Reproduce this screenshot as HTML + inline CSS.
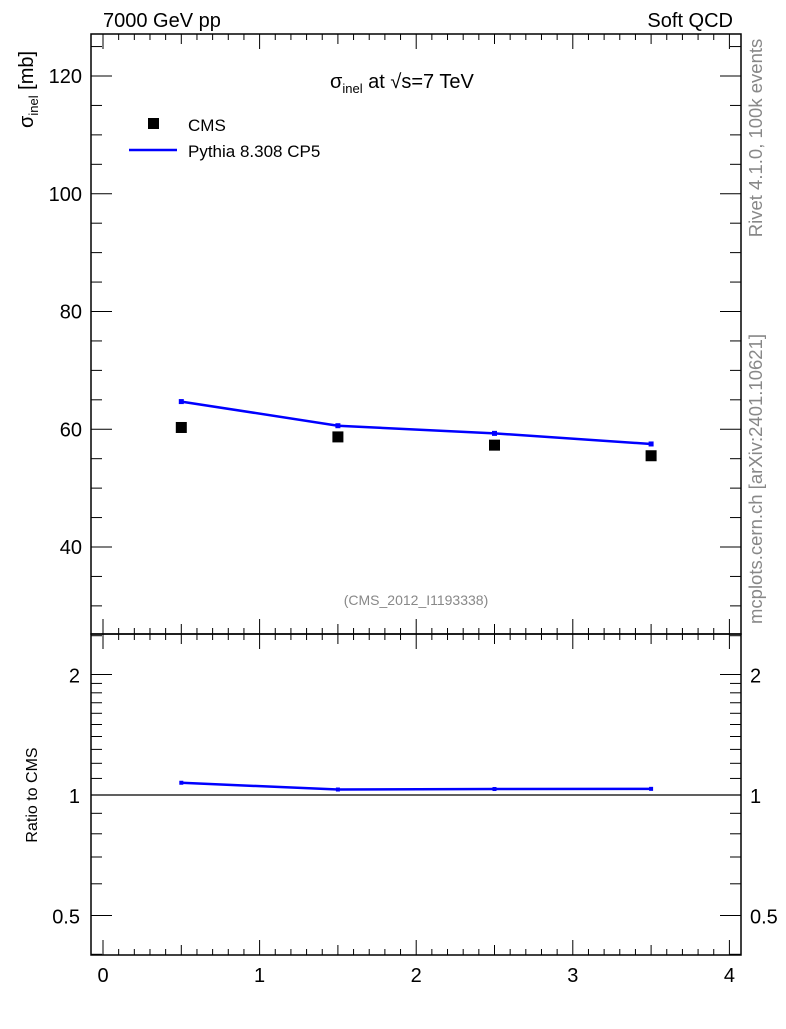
<!DOCTYPE html>
<html><head><meta charset="utf-8"><style>
body{margin:0;background:#fff;width:786px;height:1024px;overflow:hidden}
svg text{font-family:"Liberation Sans",sans-serif}
</style></head><body>
<svg id="c" width="786" height="1024" xmlns="http://www.w3.org/2000/svg">
<rect x="91" y="34" width="650" height="600" fill="none" stroke="#000" stroke-width="1.5"/>
<rect x="91" y="634" width="650" height="321" fill="none" stroke="#000" stroke-width="1.5"/>
<g id="ticks"></g>
<g id="marks"></g>
<text x="103" y="27" font-size="20">7000 GeV pp</text>
<text x="733" y="27" font-size="20" text-anchor="end">Soft QCD</text>
<text x="330" y="88" font-size="20">σ<tspan font-size="13" dy="5">inel</tspan><tspan dy="-5"> at √s=7 TeV</tspan></text>
<text transform="translate(33,128) rotate(-90)" font-size="20">σ<tspan font-size="13" dy="5">inel</tspan><tspan dy="-5"> [mb]</tspan></text>
<text transform="translate(37,795) rotate(-90)" font-size="16" text-anchor="middle">Ratio to CMS</text>
<text transform="translate(762,138) rotate(-90)" font-size="18.5" text-anchor="middle" fill="#888">Rivet 4.1.0,  100k events</text>
<text transform="translate(762,479) rotate(-90)" font-size="18.5" text-anchor="middle" fill="#888">mcplots.cern.ch [arXiv:2401.10621]</text>
<text x="416" y="605" font-size="14" text-anchor="middle" fill="#888">(CMS_2012_I1193338)</text>
<rect x="148" y="118" width="11" height="11" fill="#000"/>
<text x="188" y="131" font-size="17">CMS</text>
<line x1="129" y1="150" x2="177" y2="150" stroke="#00f" stroke-width="2.5"/>
<text x="188" y="157" font-size="17">Pythia 8.308 CP5</text>
</svg>
<script>
var categories=[0.5,1.5,2.5,3.5];
var cmsValues=[60.3,58.7,57.3,55.5];
var pythiaValues=[64.7,60.6,59.3,57.5];
var ratioValues=[1.073,1.032,1.035,1.036];
var mainTicks=[40,60,80,100,120];
var ratioTicks=[0.5,1,2];
var xTicks=[0,1,2,3,4];
(function(){
var NS='http://www.w3.org/2000/svg';
var tg=document.getElementById('ticks');
var mg=document.getElementById('marks');
var L=91,R=741,T=34,M=634,B=955;
function X(v){return 103+v*156.6;}
function Y(v){return 76+(120-v)*5.8875;}
function YR(v){return 795-Math.log(v)/Math.LN2*120.5;}
function el(t,a,p){var e=document.createElementNS(NS,t);for(var k in a)e.setAttribute(k,a[k]);p.appendChild(e);return e;}
function ln(x1,y1,x2,y2,w,c){return el('line',{x1:x1,y1:y1,x2:x2,y2:y2,stroke:c||'#000','stroke-width':w||1},tg);}
function txt(x,y,s,anchor){var t=el('text',{x:x,y:y,'font-size':20,'text-anchor':anchor},tg);t.textContent=s;return t;}
var i,v,x,y,len,t;
for(i=0;i<=40;i++){v=i/10;x=X(v);if(x<L||x>R)continue;len=i%10==0?15:(i%5==0?10:6);
 ln(x,M,x,M-len);ln(x,T,x,T+len);ln(x,B,x,B-len);ln(x,M,x,M+len);}
xTicks.forEach(function(v){
 t=txt(X(v),982,String(v),'middle');
 
 
});
for(v=30;v<=125;v+=5){y=Y(v);if(y<T||y>M)continue;len=v%20==0?21:11;ln(L,y,L+len,y);ln(R,y,R-len,y);}
mainTicks.forEach(function(v){
 t=txt(82,Y(v)+7,String(v),'end');
 
 
});
var rt=[0.4,0.5,0.6,0.7,0.8,0.9,1,1.1,1.2,1.3,1.4,1.5,1.6,1.7,1.8,1.9,2,2.5];
rt.forEach(function(v){y=YR(v);if(y<M||y>B)return;len=(v==1||v==2||v==0.5)?21:11;ln(L,y,L+len,y);ln(R,y,R-len,y);});
ratioTicks.forEach(function(v){
 t=txt(80,YR(v)+8,String(v),'end');
 
 
 t=txt(750,YR(v)+8,String(v),'start');
 
 
});
ln(L,YR(1),R,YR(1),1.2);
categories.forEach(function(c,i){
 var r=el('rect',{x:X(c)-5.5,y:Y(cmsValues[i])-5.5,width:11,height:11,fill:'#000'},mg);
 
 
});
var p=el('polyline',{points:categories.map(function(c,i){return X(c)+','+Y(pythiaValues[i]);}).join(' '),fill:'none',stroke:'#00f','stroke-width':2.5},mg);


categories.forEach(function(c,i){el('rect',{x:X(c)-2.5,y:Y(pythiaValues[i])-2.5,width:5,height:5,fill:'#00f'},mg);});
var pr=el('polyline',{points:categories.map(function(c,i){return X(c)+','+YR(ratioValues[i]);}).join(' '),fill:'none',stroke:'#00f','stroke-width':2.5},mg);


categories.forEach(function(c,i){el('rect',{x:X(c)-2,y:YR(ratioValues[i])-2,width:4,height:4,fill:'#00f'},mg);});
})();
</script>
</body></html>
